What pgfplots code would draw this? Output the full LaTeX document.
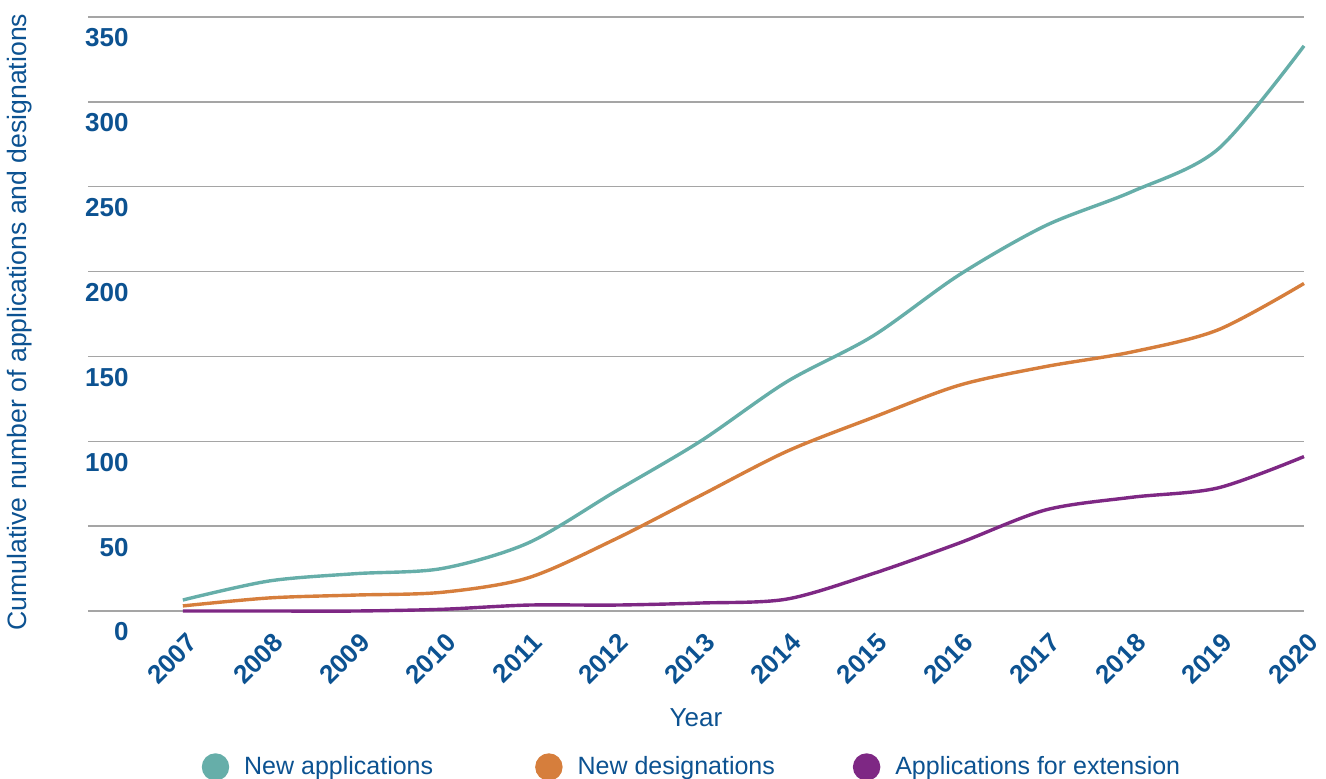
\documentclass[border=0pt]{standalone}
\usepackage{pgfplots}
\pgfplotsset{compat=1.18}
\usepackage{fontspec}
\setmainfont{Liberation Sans}
\definecolor{txtblue}{RGB}{12,82,145}
\definecolor{cteal}{RGB}{102,174,169}
\definecolor{corange}{RGB}{214,126,60}
\definecolor{cpurple}{RGB}{126,40,132}
\definecolor{cgrid}{RGB}{165,165,165}
\newcommand{\fs}{\fontsize{12.5}{15}\selectfont}
\newcommand{\ft}{\fontsize{13}{15}\selectfont}
\begin{document}
\begin{tikzpicture}
\useasboundingbox (-44pt,-83.5pt) rectangle (619pt,305.5pt);
\begin{axis}[
  scale only axis, width=608pt, height=297pt,
  xmin=2005.9, xmax=2020, ymin=0, ymax=350,
  axis line style={draw=none},
  major tick length=0pt,
  ymajorgrids, grid style={cgrid, line width=0.75pt},
  xtick={2007,...,2020},
  ytick={0,50,...,350},
  /pgf/number format/assume math mode=true,
  /pgf/number format/1000 sep={},
  xticklabel style={font=\ft\bfseries, text=txtblue, inner sep=0pt, xshift=5pt, yshift=-13.5pt, rotate=45, anchor=east},
  yticklabel style={font=\ft\bfseries, text=txtblue, inner sep=0pt, anchor=east, xshift=20.5pt, yshift=-10.5pt},
  xlabel={Year}, ylabel={Cumulative number of applications and designations},
  xlabel style={font=\ft, text=txtblue, at={(axis description cs:0.5,0)}, anchor=center, yshift=-53.5pt},
  ylabel style={font=\fontsize{13.3}{15}\selectfont, text=txtblue, at={(axis description cs:0,0.5)}, anchor=center, yshift=34pt, xshift=-4pt},
  legend columns=3,
  legend style={at={(axis description cs:0.5,0)}, anchor=center, xshift=-1.5pt, yshift=-78pt, draw=none, fill=none, font=\fs, text=txtblue,
    /tikz/every even column/.append style={column sep=37pt},
    /tikz/every odd column/.append style={column sep=5.5pt}},
  legend image code/.code={\fill[#1] (-2.5pt,0pt) circle (6pt);},
  every axis plot/.append style={line width=1.7pt, smooth},
  clip=false,
]
\addplot[cteal] coordinates {(2007,6.5) (2008,17.7) (2009,22) (2010,25) (2011,40) (2012,70) (2013,100) (2014,135) (2015,162) (2016,198) (2017,227) (2018,247) (2019,272) (2020,333)};
\addlegendentry{New applications\kern12pt}
\addplot[corange] coordinates {(2007,3) (2008,7.7) (2009,9.4) (2010,11) (2011,19.5) (2012,42) (2013,68) (2014,94) (2015,114) (2016,133) (2017,144) (2018,152.6) (2019,165.6) (2020,193)};
\addlegendentry{New designations}
\addplot[cpurple] coordinates {(2007,0) (2008,0) (2009,0) (2010,1) (2011,3.5) (2012,3.5) (2013,4.7) (2014,7) (2015,22) (2016,40) (2017,59.5) (2018,67) (2019,72.5) (2020,91)};
\addlegendentry{Applications for extension}
\end{axis}
\end{tikzpicture}
\end{document}
